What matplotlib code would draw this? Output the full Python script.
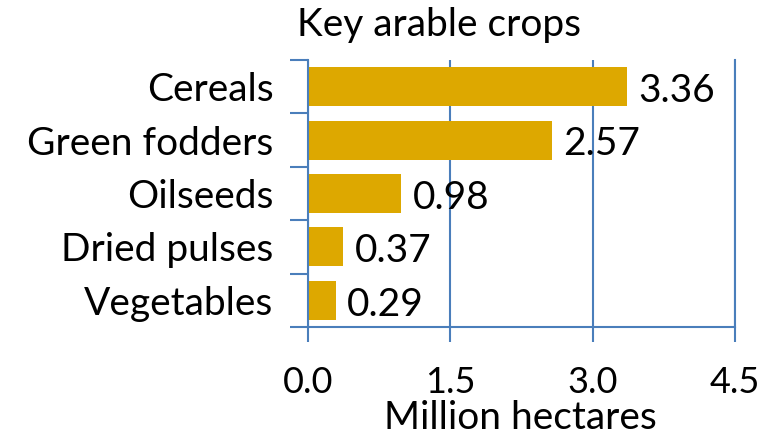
import numpy as np
import matplotlib
matplotlib.use("Agg")
import matplotlib.pyplot as plt
from matplotlib.ticker import FixedLocator

# data
crops = ['Cereals', 'Green fodders', 'Oilseeds', 'Dried pulses', 'Vegetables']
areas = [3.36, 2.57, 0.98, 0.37, 0.29]
x_ticks = [0.0, 1.5, 3.0, 4.5]

plt.rcParams['font.family'] = ['Lato', 'DejaVu Sans']

bar_color = '#DDA800'
line_color = '#4A7EBB'
fs = 28

fig = plt.figure(figsize=(7.76, 4.38), dpi=100)
ax = fig.add_axes([0.397, 0.2534, 0.550, 0.6096])

y = np.arange(len(crops))
ax.barh(y, areas, height=0.73, color=bar_color, zorder=2)
ax.set_ylim(len(crops) - 0.5, -0.5)
ax.set_xlim(0, 4.5)

# value labels
for yi, v in zip(y, areas):
    ax.text(v + 0.12, yi + 0.08, f'{v:.2f}', va='center', ha='left',
            fontsize=fs, color='black', zorder=3)

ax.set_yticks(y)
ax.set_yticklabels(crops, fontsize=fs)
ax.tick_params(axis='y', which='major', length=0, pad=25)
ax.yaxis.set_minor_locator(FixedLocator(np.arange(-0.5, len(crops), 1.0)))
ax.tick_params(axis='y', which='minor', length=13, width=1.5, color=line_color)

ax.set_xticks(x_ticks)
ax.set_xticklabels([f'{t:.1f}' for t in x_ticks], fontsize=26)
ax.tick_params(axis='x', which='major', length=11, width=1.5, color=line_color, pad=17)

ax.grid(axis='x', color=line_color, lw=1.5, zorder=1)
for side in ['left', 'bottom', 'right']:
    ax.spines[side].set_color(line_color)
    ax.spines[side].set_linewidth(1.5)
ax.spines['top'].set_visible(False)

fig.text(520 / 776, 1 - 429 / 438, 'Million hectares', ha='center', va='baseline', fontsize=fs)
fig.text(439 / 776, 1 - 25 / 438, 'Key arable crops', ha='center', va='center', fontsize=fs)

fig.savefig('out.png', dpi=100)
